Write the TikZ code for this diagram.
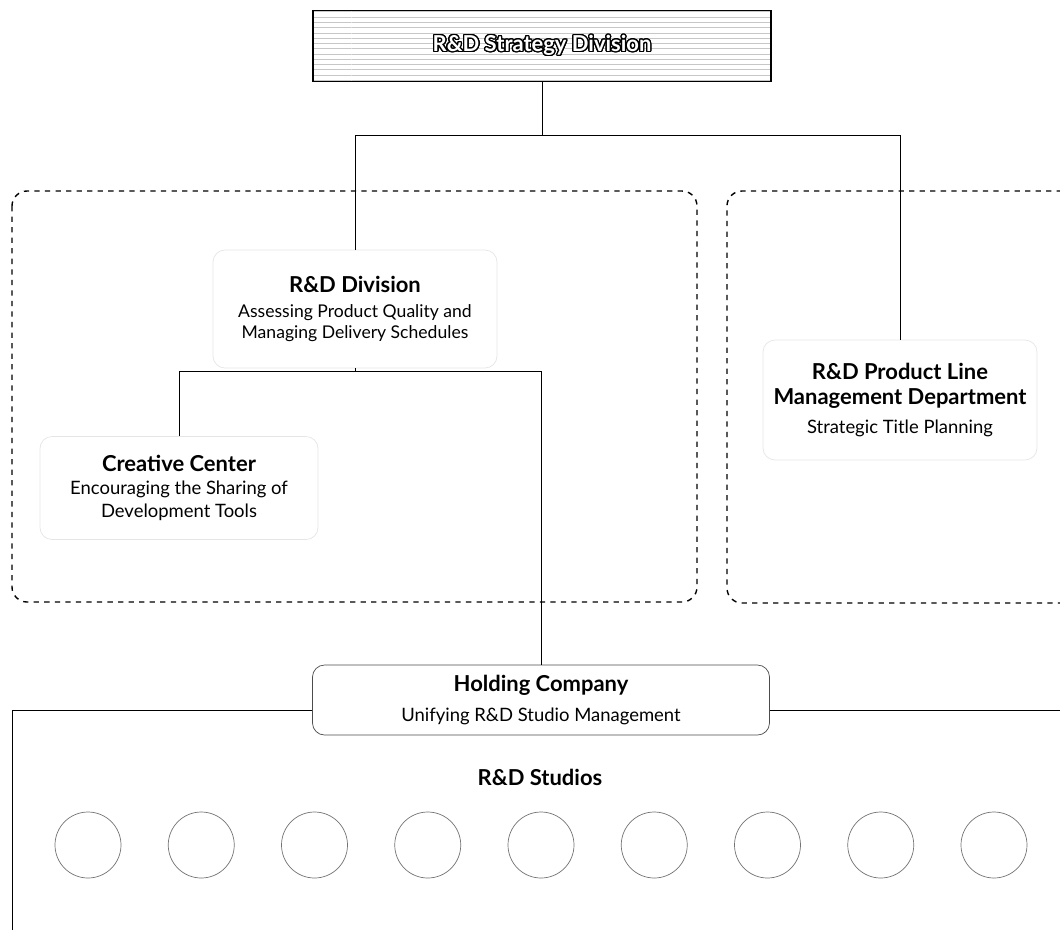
\documentclass[tikz,border=0pt]{standalone}
\usepackage{fontspec}
\setmainfont{Lato}
\usepackage{contour}
\usetikzlibrary{patterns}
\contourlength{0.7pt}
\contournumber{24}

\newcommand{\headfont}{\fontsize{12.5}{14}\selectfont\bfseries}
\newcommand{\subfont}{\fontsize{10.5}{13}\selectfont}

\begin{document}
\begin{tikzpicture}[x=0.2mm, y=-0.2mm,
    every node/.style={inner sep=0pt, align=center, font=\subfont},
    unit/.style={rounded corners=2.4mm, draw=black!10, thin},
    group/.style={dashed, thick, rounded corners=3mm},
    link/.style={thin, black},
    studio/.style={circle, draw=black!55, thin, minimum size=13.2mm}]
    \useasboundingbox (0,0) rectangle (1060,930);

    % 1. top unit
    \node[draw, line width=1pt, minimum width=91.6mm, minimum height=14.2mm,
          pattern=horizontal lines, pattern color=black!22] (strategy) at (542,46)
          {\fontsize{12.5}{14}\selectfont\bfseries\color{white}\contour{black}{R\&D Strategy Division}};

    % 2. dashed groups
    \draw[group] (12,191) rectangle (697,602);
    \draw[group] (1062,191) -- (727,191) -- (727,603) -- (1062,603);

    % 3. units inside the groups
    \node[unit, minimum width=56.8mm, minimum height=23.6mm, font=\fontsize{10}{12}\selectfont] (rdDiv) at (355,309)
          {{\headfont R\&D Division}\\[1.7pt]Assessing Product Quality and\\Managing Delivery Schedules};
    \node[unit, minimum width=55.6mm, minimum height=20.6mm] (creative) at (179,488)
          {{\headfont Creative Center}\\Encouraging the Sharing of\\Development Tools};
    \node[unit, minimum width=54.8mm, minimum height=24mm] (pline) at (900,400)
          {{\headfont R\&D Product Line}\\[1.2pt]{\headfont Management Department}\\[3.5pt]Strategic Title Planning};

    % 4. holding company and studios
    \node[unit, draw=black!70, minimum width=91.4mm, minimum height=14mm] (holding) at (541,700)
          {{\headfont Holding Company}\\[4pt]Unifying R\&D Studio Management};
    \node[font=\headfont] (studios) at (540,777) {R\&D Studios};
    \foreach \i in {0,...,8}
        \node[studio] (s\i) at (88+113.25*\i,845) {};

    % 5. connectors
    \coordinate (J1) at (541,135);
    \coordinate (J2) at (541,371);
    \coordinate (hL) at (12,710);
    \coordinate (hR) at (1060,710);
    \draw[link] (strategy.south) -- (strategy.south |- J1);
    \draw[link] (rdDiv.north) -- (rdDiv.north |- J1) -- (pline.north |- J1) -- (pline.north);
    \draw[link] (rdDiv.south) -- (rdDiv.south |- J2);
    \draw[link] (creative.north) -- (creative.north |- J2) -- (holding.north |- J2) -- (holding.north);
    \draw[link] (holding.west |- hL) -- (hL) -- (12,930);
    \draw[link] (holding.east |- hR) -- (hR);

\end{tikzpicture}
\end{document}
